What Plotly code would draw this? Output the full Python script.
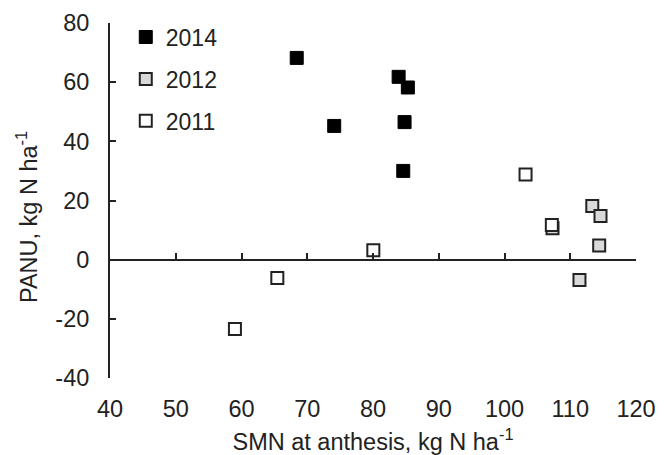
import plotly.graph_objects as go

# Data
smn_2014 = [68.4, 74.1, 83.9, 85.3, 84.8, 84.6]
panu_2014 = [68.2, 45.2, 61.8, 58.2, 46.5, 30.0]

smn_2012 = [107.3, 111.4, 113.35, 114.6, 114.4]
panu_2012 = [10.6, -6.9, 18.1, 14.8, 4.8]

smn_2011 = [59.0, 65.45, 80.05, 103.2, 107.2]
panu_2011 = [-23.4, -6.2, 3.2, 28.8, 11.7]

x_ticks = [40, 50, 60, 70, 80, 90, 100, 110, 120]
y_ticks = [-40, -20, 0, 20, 40, 60, 80]
y_tick_text = ["-40", "-20", "0", "20", "40", "60", "80"]

FONT = "Liberation Sans, Arial, sans-serif"
EDGE = "#222222"

fig = go.Figure()
fig.add_trace(go.Scatter(
    x=smn_2011, y=panu_2011, mode="markers", name="2011", legendgroup="a", legendrank=3,
    marker=dict(symbol="square", size=12, color="white", line=dict(color=EDGE, width=2)),
    xaxis="x2"))
fig.add_trace(go.Scatter(
    x=smn_2012, y=panu_2012, mode="markers", name="2012", legendgroup="b", legendrank=2,
    marker=dict(symbol="square", size=12, color="#d9d9d9", line=dict(color=EDGE, width=2))))
fig.add_trace(go.Scatter(
    x=smn_2014, y=panu_2014, mode="markers", name="2014", legendgroup="c", legendrank=1,
    marker=dict(symbol="square", size=13, color="black", line=dict(color="black", width=1))))

fig.update_layout(
    width=670, height=455,
    margin=dict(l=110, r=34, t=23, b=77, pad=0, autoexpand=False),
    paper_bgcolor="white", plot_bgcolor="white",
    font=dict(family=FONT, size=23, color="#222222"),
    showlegend=True,
    legend=dict(x=0.03, y=1.021, xanchor="left", yanchor="top",
                traceorder="grouped", tracegroupgap=9,
                font=dict(size=23, family=FONT, color="#222222"),
                bgcolor="rgba(0,0,0,0)", itemwidth=30),
    xaxis=dict(range=[40, 120], tickvals=x_ticks, showline=False, ticks="",
               showgrid=False, zeroline=False, ticklabelstandoff=14,
               tickfont=dict(size=23.5), automargin=False,
               title=dict(text="SMN at anthesis, kg N ha<sup>-1</sup>", standoff=13,
                          font=dict(size=23.5))),
    xaxis2=dict(range=[40, 120], matches="x", overlaying="x", anchor="free",
                position=1/3, side="bottom", tickvals=x_ticks, ticks="inside",
                ticklen=6, tickwidth=2, tickcolor=EDGE, showticklabels=False,
                showline=True, linecolor=EDGE, linewidth=2, showgrid=False,
                zeroline=False, automargin=False),
    yaxis=dict(range=[-40, 80], tickvals=y_ticks, ticktext=y_tick_text,
               ticks="inside", ticklen=6, automargin=False,
               tickwidth=2, tickcolor=EDGE, showline=True, linecolor=EDGE,
               linewidth=2, showgrid=False, zeroline=False, ticklabelstandoff=14,
               tickfont=dict(size=23.5)),
    annotations=[dict(text="PANU, kg N ha<sup>-1</sup>", textangle=-90,
                      xref="paper", yref="paper", x=0, y=0.4535, xshift=-83,
                      xanchor="center", yanchor="middle", showarrow=False,
                      font=dict(size=23.5, family=FONT, color="#222222"))],
)

fig.write_html("out.html")
